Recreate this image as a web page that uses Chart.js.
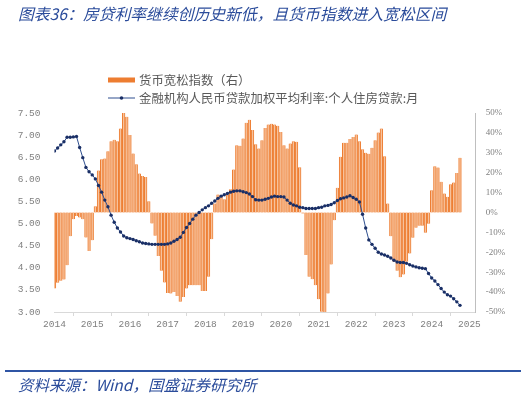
<!DOCTYPE html>
<html>
<head>
<meta charset="utf-8">
<script src="https://cdn.jsdelivr.net/npm/chart.js"></script>
<style>
  html, body { margin: 0; padding: 0; background: #fff; }
  #wrap { position: relative; width: 526px; height: 398px; overflow: hidden; }
  #myChart { position: absolute; left: 0; top: 0; }
  .title { position: absolute; left: 18px; top: 2px; font: italic 15.8px "Noto Sans CJK SC"; color: #2b4c9b; white-space: nowrap; }
  .rule { position: absolute; left: 5px; width: 516px; top: 370px; height: 2px; background: #2f55a4; }
  .src { position: absolute; left: 18px; top: 373px; font: italic 15.5px "Noto Sans CJK SC"; color: #2b4c9b; white-space: nowrap; }
</style>
</head>
<body>
<div id="wrap">
  <canvas id="myChart" width="526" height="398"></canvas>
  <div class="title">图表36：房贷利率继续创历史新低，且货币指数进入宽松区间</div>
  <div class="rule"></div>
  <div class="src">资料来源：Wind，国盛证券研究所</div>
</div>
<script>
// year labels on the x axis, one every 12 months starting Jan 2014
const years = ['2014', '2015', '2016', '2017', '2018', '2019', '2020', '2021', '2022', '2023', '2024', '2025'];

// monthly, Jan 2014 .. Oct 2024
const moneyIndex = [
  -38.2, -35.3, -34.3, -33.7, -26.5, -11.9, -3.4, -1.8, -2.5, -3.4,
  -12.6, -19.3, -13.9, 3.2, 21.1, 26.8, 27.1, 30.8, 35.8, 36.5,
  35.8, 42.2, 50.1, 48.1, 38.9, 29.6, 24.3, 19.6, 18.4, 17.9,
  5.7, -5.5, -11.7, -21.8, -29.3, -35.2, -40.4, -40.7, -39.9, -41.9,
  -44.9, -42.4, -38.2, -36.5, -36.5, -36.5, -36.5, -39.4, -39.5, -32.3,
  -13.4, 4.5, 9.0, 8.7, 6.7, 9.0, 11.7, 21.6, 33.8, 33.5,
  37.2, 45.1, 46.6, 41.4, 34.3, 32.2, 36.3, 42.5, 44.2, 44.6,
  44.2, 43.6, 40.5, 33.8, 32.2, 34.7, 35.8, 35.5, 22.8, -0.5,
  -21.4, -32.3, -33.5, -36.5, -43.6, -49.9, -50.0, -40.7, -26.1, -3.9,
  12.4, 28.0, 35.0, 35.0, 36.9, 38.0, 39.2, 35.8, 31.8, 30.0,
  29.5, 32.5, 36.3, 40.2, 42.2, 28.3, 4.5, -11.9, -24.8, -29.3,
  -32.5, -31.2, -24.8, -20.6, -12.7, -7.7, -6.7, -6.7, -10.2, -5.7,
  11.2, 23.3, 22.6, 15.4, 9.5, 7.9, 14.2, 15.1, 19.8, 27.5
];

const mortgageRate = [
  6.64, 6.71, 6.78, 6.85, 6.95, 6.95, 6.96, 6.97, 6.72, 6.49,
  6.27, 6.17, 6.10, 6.01, 5.86, 5.71, 5.53, 5.38, 5.19, 5.03,
  4.90, 4.81, 4.72, 4.68, 4.66, 4.64, 4.61, 4.59, 4.56, 4.55,
  4.54, 4.53, 4.53, 4.53, 4.53, 4.53, 4.54, 4.56, 4.60, 4.64,
  4.69, 4.80, 4.91, 5.00, 5.10, 5.19, 5.25, 5.31, 5.36, 5.40,
  5.46, 5.51, 5.57, 5.62, 5.65, 5.68, 5.71, 5.73, 5.74, 5.74,
  5.72, 5.70, 5.67, 5.61, 5.54, 5.53, 5.53, 5.55, 5.57, 5.60,
  5.62, 5.61, 5.61, 5.60, 5.53, 5.46, 5.42, 5.40, 5.37, 5.36,
  5.34, 5.34, 5.34, 5.34, 5.36, 5.37, 5.40, 5.41, 5.43, 5.47,
  5.52, 5.56, 5.58, 5.60, 5.63, 5.59, 5.55, 5.49, 5.21, 4.90,
  4.63, 4.53, 4.44, 4.35, 4.31, 4.29, 4.26, 4.22, 4.17, 4.13,
  4.12, 4.12, 4.10, 4.07, 4.04, 4.02, 4.00, 3.99, 3.98, 3.87,
  3.77, 3.70, 3.62, 3.53, 3.45, 3.39, 3.36, 3.30, 3.23, 3.15
];

const barLabel = '货币宽松指数（右）';
const lineLabel = '金融机构人民币贷款加权平均利率:个人住房贷款:月';

const axisGray = '#7f7f7f';
const monoFont = { family: 'Liberation Mono', size: 9.5 };

// legend stacked on the left, above the plot
const topLegend = {
  id: 'topLegend',
  afterDraw(chart) {
    const ctx = chart.ctx;
    const ds = chart.data.datasets;
    ctx.save();
    ctx.font = '12.4px "Noto Sans CJK SC"';
    ctx.textBaseline = 'middle';

    ctx.fillStyle = '#ED7D31';
    ctx.fillRect(108, 77.5, 27, 5);
    ctx.fillStyle = '#595959';
    ctx.fillText(ds[0].label, 139, 80);

    ctx.strokeStyle = '#2F4F8F';
    ctx.lineWidth = 1;
    ctx.beginPath();
    ctx.moveTo(108, 98);
    ctx.lineTo(135, 98);
    ctx.stroke();
    ctx.fillStyle = '#1A2F66';
    ctx.beginPath();
    ctx.arc(121.5, 98, 1.8, 0, Math.PI * 2);
    ctx.fill();
    ctx.fillStyle = '#595959';
    ctx.fillText(ds[1].label, 139, 98);
    ctx.restore();
  }
};

const data = {
  datasets: [{
    type: 'bar',
    label: barLabel,
    data: moneyIndex.map((v, i) => ({ x: i, y: v })),
    yAxisID: 'y1',
    backgroundColor: '#F7C29C',
    borderColor: '#ED7D31',
    borderWidth: { left: 1, right: 1, top: 0, bottom: 0 },
    borderSkipped: false,
    barThickness: 2.7,
    order: 1
  },
  {
    type: 'line',
    label: lineLabel,
    data: mortgageRate.map((v, i) => ({ x: i, y: v })),
    yAxisID: 'y',
    borderColor: '#2F4F8F',
    borderWidth: 1,
    pointRadius: 1.7,
    pointBackgroundColor: '#1A2F66',
    pointBorderWidth: 0,
    tension: 0,
    order: 0
  }]
};

const config = {
  data: data,
  options: {
    responsive: false,
    animation: false,
    layout: { padding: { top: 113, left: 0, right: 0, bottom: 0 } },
    plugins: { legend: { display: false }, tooltip: { enabled: false } },
    scales: {
      x: {
        type: 'linear',
        offset: false,
        min: 0,
        max: 134,
        afterBuildTicks: (s) => { s.ticks = years.map((y, i) => ({ value: i * 12 })); },
        afterFit: (s) => { s.height = 86; },
        ticks: {
          callback: (v) => years[v / 12],
          font: monoFont,
          color: axisGray,
          padding: 3,
          maxRotation: 0,
          autoSkip: false
        },
        grid: { display: true, drawOnChartArea: false, drawTicks: true, tickLength: 4, color: '#d9d9d9' },
        border: { display: true, color: '#d9d9d9' }
      },
      y: {
        position: 'left',
        min: 3,
        max: 7.5,
        afterFit: (s) => { s.width = 54.5; },
        ticks: {
          stepSize: 0.5,
          callback: (v) => v.toFixed(2),
          font: monoFont,
          color: axisGray,
          padding: 14
        },
        grid: { display: false, drawTicks: false },
        border: { display: false }
      },
      y1: {
        position: 'right',
        min: -50,
        max: 50,
        afterFit: (s) => { s.width = 50.3; },
        ticks: {
          stepSize: 10,
          callback: (v) => v + '%',
          font: { family: 'Liberation Serif', size: 9 },
          color: axisGray,
          padding: 10
        },
        grid: { display: false, drawTicks: false },
        border: { display: true, color: '#bfbfbf' }
      }
    }
  },
  plugins: [topLegend]
};

let myChart = new Chart(document.getElementById('myChart'), config);
</script>
</body>
</html>
